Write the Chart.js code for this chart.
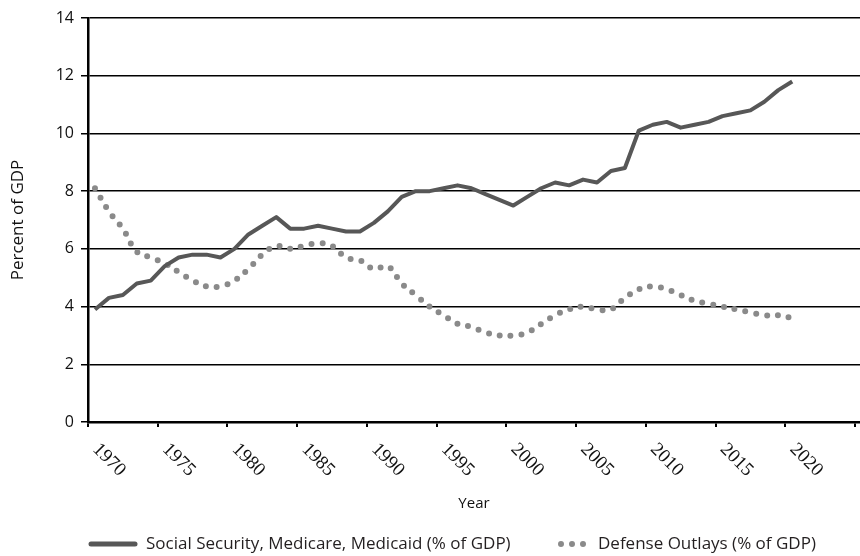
<!DOCTYPE html>
<html>
<head>
<meta charset="utf-8">
<script src="https://cdn.jsdelivr.net/npm/chart.js@4"></script>
<style>
    html, body { margin: 0; padding: 0; background: #fff; }
    #wrap { width: 860px; height: 556px; }
</style>
</head>
<body>
<div id="wrap"><canvas id="myChart"></canvas></div>
<script>
// data
var years = [];
for (var y = 1970; y <= 2020; y++) years.push(y);

var socialData = [3.9, 4.3, 4.4, 4.8, 4.9, 5.4, 5.7, 5.8, 5.8, 5.7,
    6.0, 6.5, 6.8, 7.1, 6.7, 6.7, 6.8, 6.7, 6.6, 6.6,
    6.9, 7.3, 7.8, 8.0, 8.0, 8.1, 8.2, 8.1, 7.9, 7.7,
    7.5, 7.8, 8.1, 8.3, 8.2, 8.4, 8.3, 8.7, 8.8, 10.1,
    10.3, 10.4, 10.2, 10.3, 10.4, 10.6, 10.7, 10.8, 11.1, 11.5,
    11.8];
var defenseData = [8.1, 7.3, 6.7, 5.9, 5.7, 5.5, 5.2, 4.9, 4.7, 4.7,
    4.9, 5.3, 5.8, 6.1, 6.0, 6.1, 6.2, 6.1, 5.7, 5.6,
    5.3, 5.4, 4.8, 4.4, 4.0, 3.7, 3.4, 3.3, 3.1, 3.0,
    3.0, 3.1, 3.4, 3.7, 3.9, 4.0, 3.9, 3.9, 4.3, 4.6,
    4.7, 4.6, 4.4, 4.2, 4.1, 4.0, 3.9, 3.8, 3.7, 3.7,
    3.6];
var tickYears = [1970, 1975, 1980, 1985, 1990, 1995, 2000, 2005, 2010, 2015, 2020];
var seriesNames = ['Social Security, Medicare, Medicaid (% of GDP)', 'Defense Outlays (% of GDP)'];

function toPoints(arr) {
    return arr.map(function (v, i) { return { x: years[i], y: v }; });
}

// rotated year labels under the x axis (going down-right)
var yearLabelsPlugin = {
    id: 'yearLabels',
    afterDraw: function (chart) {
        var ctx = chart.ctx;
        var sx = chart.scales.x;
        ctx.save();
        ctx.font = '19px "Liberation Serif"';
        ctx.fillStyle = '#111';
        ctx.textAlign = 'left';
        ctx.textBaseline = 'alphabetic';
        tickYears.forEach(function (yr) {
            var px = sx.getPixelForValue(yr - 0.5);
            ctx.save();
            ctx.translate(px + 4, 450);
            ctx.rotate(Math.PI / 4);
            ctx.fillText(String(yr), 0, 0);
            ctx.restore();
        });
        ctx.restore();
    }
};

// legend at the bottom, drawn with the dataset styles
var legendPlugin = {
    id: 'bottomLegend',
    afterDraw: function (chart) {
        var ctx = chart.ctx;
        var ly = 544;
        ctx.save();
        ctx.font = '17px "Open Sans"';
        ctx.textBaseline = 'middle';
        var ds0 = chart.data.datasets[0];
        var ds1 = chart.data.datasets[1];
        // solid sample
        ctx.strokeStyle = ds0.borderColor;
        ctx.lineWidth = 5;
        ctx.lineCap = 'round';
        ctx.beginPath();
        ctx.moveTo(91, ly);
        ctx.lineTo(135, ly);
        ctx.stroke();
        ctx.fillStyle = '#231f20';
        ctx.fillText(ds0.label, 146, ly);
        var x2 = Math.max(558, 146 + ctx.measureText(ds0.label).width + 40);
        // dotted sample
        ctx.strokeStyle = ds1.borderColor;
        ctx.lineWidth = ds1.borderWidth;
        ctx.setLineDash(ds1.borderDash);
        ctx.beginPath();
        ctx.moveTo(x2 + 3, ly);
        ctx.lineTo(x2 + 28, ly);
        ctx.stroke();
        ctx.setLineDash([]);
        ctx.fillText(ds1.label, x2 + 40, ly);
        ctx.restore();
    }
};

function BuildChart() {
    var ctx = document.getElementById('myChart').getContext('2d');
    var myChart = new Chart(ctx, {
        type: 'line',
        data: {
            datasets: [{
                label: seriesNames[0],
                data: toPoints(socialData),
                borderColor: '#575757',
                borderWidth: 4,
                borderJoinStyle: 'round',
                pointRadius: 0,
                tension: 0
            }, {
                label: seriesNames[1],
                data: toPoints(defenseData),
                borderColor: '#8a8a8a',
                borderWidth: 6,
                borderDash: [0, 11],
                borderCapStyle: 'round',
                pointRadius: 0,
                tension: 0.4
            }]
        },
        options: {
            responsive: true,
            maintainAspectRatio: false,
            animation: false,
            layout: { padding: { top: 18, right: 0, bottom: 36, left: 0 } },
            plugins: {
                legend: { display: false },
                tooltip: { enabled: false }
            },
            scales: {
                x: {
                    type: 'linear',
                    min: 1969.5,
                    max: 2024.86,
                    afterBuildTicks: function (scale) {
                        scale.ticks = tickYears.concat([2025]).map(function (yr) { return { value: yr - 0.5 }; });
                    },
                    afterFit: function (scale) { scale.height = 98; },
                    border: { display: true, color: '#000', width: 2.5 },
                    grid: { drawOnChartArea: false, drawTicks: true, tickLength: 5, color: '#000', lineWidth: 2 },
                    ticks: { display: false },
                    title: {
                        display: true,
                        text: 'Year',
                        color: '#111',
                        font: { family: 'Open Sans', size: 15 },
                        padding: { top: 0, bottom: 7 }
                    }
                },
                y: {
                    min: 0,
                    max: 14,
                    afterFit: function (scale) { scale.width = 88; },
                    border: { display: true, color: '#000', width: 2.5 },
                    grid: { color: '#000', lineWidth: 1.5, tickLength: 7, tickColor: '#000' },
                    ticks: {
                        stepSize: 2,
                        padding: 7,
                        color: '#111',
                        font: { family: 'Open Sans', size: 16 }
                    },
                    title: {
                        display: true,
                        text: 'Percent of GDP',
                        color: '#111',
                        font: { family: 'Open Sans', size: 17 },
                        padding: { top: 8, bottom: 0 }
                    }
                }
            }
        },
        plugins: [yearLabelsPlugin, legendPlugin]
    });
    return myChart;
}

BuildChart();
</script>
</body>
</html>
